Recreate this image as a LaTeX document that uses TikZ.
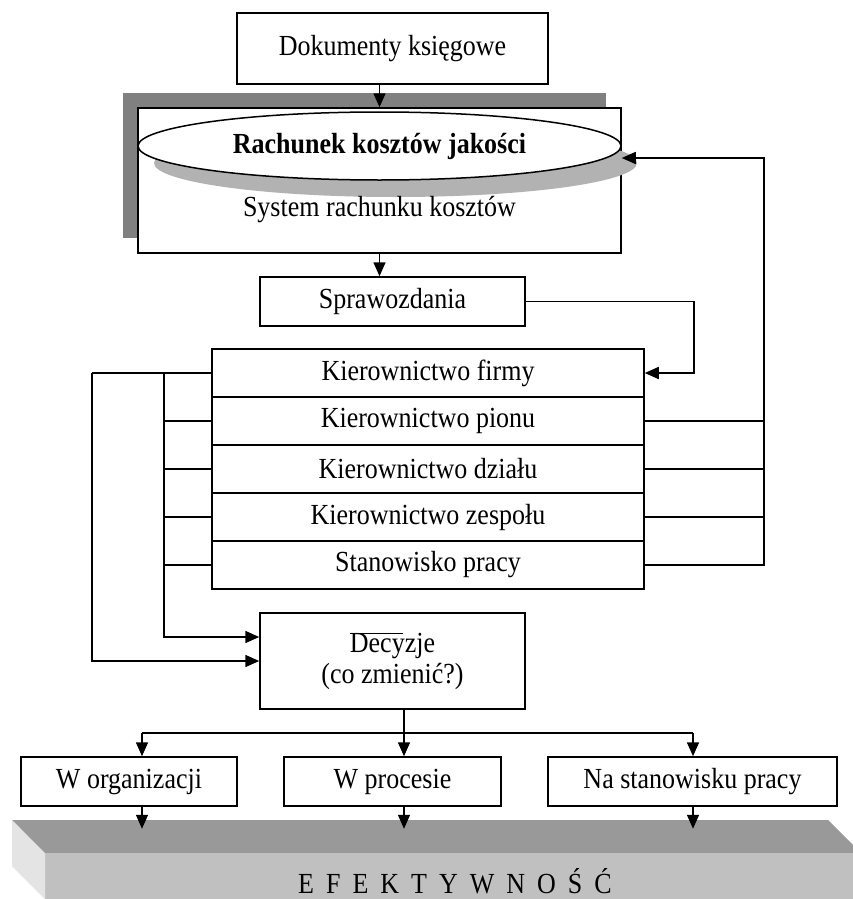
\documentclass[tikz,border=0pt]{standalone}
\usepackage{fontspec}
\setmainfont{Liberation Serif}
\usetikzlibrary{arrows.meta,shapes.geometric,calc}
\definecolor{shadowgray}{RGB}{128,128,128}
\definecolor{ellshadow}{RGB}{178,178,178}
\definecolor{slabtop}{RGB}{153,153,153}
\definecolor{slabfront}{RGB}{192,192,192}
\definecolor{slabside}{RGB}{228,228,228}
\newcommand{\tallt}[1]{\scalebox{1}[1.12]{#1}}
\begin{document}
\begin{tikzpicture}[x=1pt,y=-1pt,
  ln/.style={line width=1.5pt},
  arr/.style={line width=1.5pt,-{Triangle[length=14pt,width=12pt]}},
  txt/.style={font=\fontsize{26}{31}\selectfont},
  box/.style={draw,line width=1.5pt,fill=white,inner sep=0pt,align=center,txt},
]
\fill[white] (0,0) rectangle (852,899);
\useasboundingbox (0,0) rectangle (852,899);

% slab EFEKTYWNOSC
\fill[slabtop] (12,820) -- (828,820) -- (862,854) -- (45,854) -- cycle;
\fill[slabfront] (45,853) rectangle (862,905);
\fill[slabside] (12,820) -- (45,853) -- (45,899) -- (12,866) -- cycle;
\node[txt,anchor=base] (ef) at (455,893) {\tallt{E\hspace{12pt}F\hspace{12pt}E\hspace{12pt}K\hspace{12pt}T\hspace{12pt}Y\hspace{12pt}W\hspace{12pt}N\hspace{12pt}O\hspace{12pt}Ś\hspace{12pt}Ć}};

% top box
\node[box,minimum width=311pt,minimum height=71pt] (doc) at (392.5,48.5) {\tallt{Dokumenty księgowe}};

% system box with shadow and ellipse
\fill[shadowgray] (123,93) rectangle (606,238);
\node[box,minimum width=483pt,minimum height=145pt] (sys) at (379.5,180.5) {};
\fill[ellshadow] (395.5,163) ellipse [x radius=241.5pt, y radius=34pt];
\node[ellipse,draw,line width=1.5pt,fill=white,minimum width=483pt,minimum height=68pt,inner sep=0pt,
  font=\fontsize{26}{31}\selectfont\bfseries] (rk) at (379.5,146) {\tallt{Rachunek kosztów jakości}};
\node[txt] (syst) at (379.5,210) {\tallt{System rachunku kosztów}};

\draw[arr] (doc.south -| sys.north) -- (sys.north);

% Sprawozdania
\node[box,minimum width=265pt,minimum height=49pt] (spr) at (392.5,301.5) {\tallt{Sprawozdania}};
\draw[arr] (sys.south) -- (sys.south |- spr.north);

% management stack
\node[box,minimum width=432pt,minimum height=48pt] (k1) at (428,373) {\tallt{Kierownictwo firmy}};
\node[box,minimum width=432pt,minimum height=48pt] (k2) at (428,421) {\tallt{Kierownictwo pionu}};
\node[box,minimum width=432pt,minimum height=48pt] (k3) at (428,469) {\tallt{Kierownictwo działu}};
\node[box,minimum width=432pt,minimum height=48pt] (k4) at (428,517) {\tallt{Kierownictwo zespołu}};
\node[box,minimum width=432pt,minimum height=48pt] (k5) at (428,565) {\tallt{Stanowisko pracy}};

\draw[arr] (spr.east) -- ++(168,0) |- (k1.east);

% right feedback
\coordinate (rtop) at (764,158);
\foreach \k in {k2,k3,k4} {\draw[ln] (\k.east) -- (\k.east -| rtop);}
\draw[arr] (k5.east) -- (k5.east -| rtop) -- (rtop) -- (rtop -| sys.east);

% decisions
\node[box,minimum width=265pt,minimum height=96pt] (dec) at (392.5,661)
  {\tallt{\rlap{\rule[16.5pt]{53pt}{1pt}}Decyzje}\\\tallt{(co zmienić?)}};
\coordinate (li) at (164,373);
\coordinate (lo) at (92,373);
\coordinate (din1) at ($(dec.west)+(0,-24)$);
\foreach \k in {k1,k2,k3,k4,k5} {\draw[ln] (\k.west) -- (\k.west -| li);}
\draw[ln] (li) -- (lo);
\draw[arr] (li) |- (din1);
\draw[arr] (lo) |- (dec.west);

% outcomes
\node[box,minimum width=216pt,minimum height=49pt] (o1) at (129,781.5) {\tallt{W organizacji}};
\node[box,minimum width=217pt,minimum height=49pt] (o2) at (392.5,781.5) {\tallt{W procesie}};
\node[box,minimum width=289pt,minimum height=49pt] (o3) at (692.5,781.5) {\tallt{Na stanowisku pracy}};

\coordinate (jn) at (404,733);
\coordinate (a1) at (142,733);
\coordinate (a3) at (693,733);
\draw[ln] (dec.south -| jn) -- (jn);
\draw[ln] (a1) -- (a3);
\draw[arr] (a1) -- (a1 |- o1.north);
\draw[arr] (jn) -- (jn |- o2.north);
\draw[arr] (a3) -- (a3 |- o3.north);
\draw[arr] (a1 |- o1.south) -- ++(0,22);
\draw[arr] (jn |- o2.south) -- ++(0,22);
\draw[arr] (a3 |- o3.south) -- ++(0,22);
\end{tikzpicture}
\end{document}
